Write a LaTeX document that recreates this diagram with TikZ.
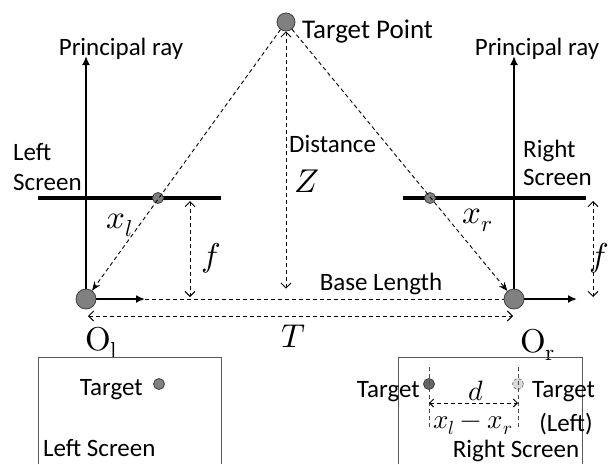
\documentclass[tikz,border=0pt]{standalone}
\usepackage{fontspec}
\usepackage{unicode-math}
\setmainfont{Carlito}
\setmathfont{Latin Modern Math}
\usetikzlibrary{arrows.meta, positioning, calc}

\begin{document}
\begin{tikzpicture}[x=1pt, y=-1pt,
    txt/.style={font=\fontsize{25}{29}\selectfont, inner sep=0pt, anchor=base},
    mth/.style={font=\fontsize{33}{35}\selectfont, inner sep=0pt, anchor=base},
    smth/.style={font=\fontsize{28}{30}\selectfont, inner sep=0pt, anchor=base},
    lens/.style={circle, draw=black!75, fill=black!50, minimum size=20pt, inner sep=0pt, line width=0.8pt},
    spot/.style={circle, draw=black!75, fill=black!50, minimum size=11pt, inner sep=0pt, line width=0.8pt},
    axisarrow/.style={-{Latex[length=9pt, width=8pt]}, line width=1.8pt},
    screenbar/.style={line width=4.5pt},
    ray/.style={dash pattern=on 4pt off 3pt, line width=0.9pt, -{Stealth[length=9pt, width=7pt]}},
    gap/.style={dash pattern=on 4pt off 3pt, line width=0.9pt,
      {Straight Barb[length=5pt, width=10pt]}-{Straight Barb[length=5pt, width=10pt]}},
    guide/.style={dash pattern=on 4pt off 3pt, line width=0.9pt, draw=black!70},
    frame/.style={draw=black!65, line width=1pt}
  ]
    \useasboundingbox (0,0) rectangle (609,464);

    % Points
    \node[lens, minimum size=18pt] (target) at (286,22) {};
    \node[lens] (ol) at (86,299) {};
    \node[lens] (or) at (514,299) {};

    % Principal rays and screens
    \coordinate (ltop) at (86,56);
    \coordinate (rtop) at (514,56);
    \draw[screenbar] (38,198) -- (221,198);
    \draw[screenbar] (403,198) -- (586,198);
    \draw[axisarrow] (ol.north) -- (ltop);
    \draw[axisarrow] (or.north) -- (rtop);
    \draw[dash pattern=on 4pt off 3pt, line width=0.9pt] (ol.east) -- (or.west);
    \draw[axisarrow] (ol.east) -- (145,299);
    \draw[axisarrow] (or.east) -- (577,299);
    \node[spot] (imgl) at (158,198) {};
    \node[spot] (imgr) at (430,198) {};

    % Rays from the target
    \draw[ray] (target) -- (ol);
    \draw[ray] (target) -- (or);

    % Measures
    \draw[gap] (target) -- (target |- ol.north);
    \draw[gap] (190,201) -- (190,297);
    \draw[gap] (593,201) -- (593,297);
    \draw[gap] ($(ol.center)+(2,17)$) -- ($(or.center)+(-1,17)$);

    % Labels
    \node[txt] (prl) at (121,55) {Principal ray};
    \node[txt] (prr) at (537,55) {Principal ray};
    \node[txt, anchor=base west, font=\fontsize{27}{30}\selectfont] (tpoint) at (302,38) {Target Point};
    \node[txt, anchor=base west] (lscreen1) at (13,160) {Left};
    \node[txt, anchor=base west] (lscreen2) at (13,190) {Screen};
    \node[txt, anchor=base west] (rscreen1) at (523,157) {Right};
    \node[txt, anchor=base west] (rscreen2) at (523,185) {Screen};
    \node[txt, anchor=base west] (dist) at (289,152) {Distance};
    \node[mth] (zlab) at (307,192) {$Z$};
    \node[mth] (xl) at (120,228) {$x_l$};
    \node[mth] (xr) at (478,223) {$x_r$};
    \node[mth] (fl) at (211,266) {$f$};
    \node[mth, anchor=base east] (fr) at (609,266) {$f$};
    \node[txt] (base) at (381,290) {Base Length};
    \node[mth] (tlab) at (294,347) {$T$};
    \node[mth, anchor=base west] (oll) at (85,350) {$\symup{O}_{\symup{l}}$};
    \node[mth, anchor=base west] (orl) at (520,352) {$\symup{O}_{\symup{r}}$};

    % Left image
    \draw[frame] (38,464) |- (221,357) -- (221,464);
    \node[spot] (tgtl) at (159,384) {};
    \node[txt, anchor=base east] at (143,395) {Target};
    \node[txt, anchor=base west] at (43,456) {Left Screen};

    % Right image
    \draw[frame] (398,464) |- (582,357) -- (582,464);
    \node[spot, fill=black!60] (tgtr) at (429,384) {};
    \node[spot, fill=black!15, draw=black!50, densely dashed] (tgtg) at (518,384) {};
    \draw[guide] (429,367) -- (429,427);
    \draw[guide] (518,367) -- (518,427);
    \draw[gap, {Straight Barb[length=4pt, width=8pt]}-{Straight Barb[length=4pt, width=8pt]}] (tgtr |- 0,403) -- (tgtg |- 0,403);
    \node[txt, anchor=base east] at (420,397) {Target};
    \node[txt, anchor=base west] at (532,397) {Target};
    \node[txt] at (566,431) {(Left)};
    \node[smth] at (476,400) {$d$};
    \node[smth, font=\fontsize{27}{29}\selectfont] at (473,428) {$x_l-x_r$};
    \node[txt] at (516,457) {Right Screen};
\end{tikzpicture}
\end{document}
